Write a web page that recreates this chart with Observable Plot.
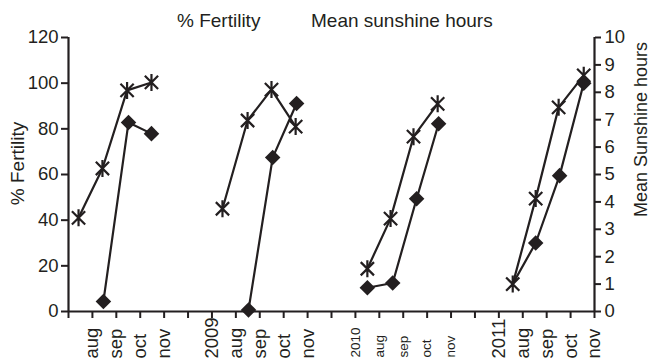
<!DOCTYPE html>
<html>
<head>
<meta charset="utf-8">
<script src="https://cdn.jsdelivr.net/npm/d3@7"></script>
<script src="https://cdn.jsdelivr.net/npm/@observablehq/plot@0.6"></script>
<style>
  html, body { margin: 0; padding: 0; background: #fff; }
  #wrap { position: relative; width: 650px; height: 362px; font-family: "Liberation Sans", Arial, sans-serif; }
  .leg { position: absolute; top: 10px; font-size: 19px; color: #231f20; white-space: nowrap; }
</style>
</head>
<body>
<div id="wrap">
  <div class="leg" style="left:177px">% Fertility</div>
  <div class="leg" style="left:311px">Mean sunshine hours</div>
</div>
<script>
// x positions are in tick-slot units (one slot per month tick on the axis)
const tickLabels = ["", "aug", "sep", "oct", "nov", "", "2009", "aug", "sep", "oct", "nov", "", "2010", "aug", "sep", "oct", "nov", "", "2011", "aug", "sep", "oct", "nov"];
const tickGroup  = [2008, 2008, 2008, 2008, 2008, 2008, 2009, 2009, 2009, 2009, 2009, 2009, 2010, 2010, 2010, 2010, 2010, 2010, 2011, 2011, 2011, 2011, 2011];

// Mean sunshine hours (right axis)
const sunSeason = [2008, 2008, 2008, 2008, 2009, 2009, 2009, 2009, 2010, 2010, 2010, 2010, 2011, 2011, 2011, 2011];
const sunX      = [0.42, 1.42, 2.45, 3.47, 6.44, 7.49, 8.49, 9.5, 12.5, 13.47, 14.43, 15.44, 18.58, 19.54, 20.5, 21.55];
const sunshine  = [3.42, 5.22, 8.07, 8.36, 3.75, 6.97, 8.1, 6.75, 1.56, 3.39, 6.38, 7.58, 1.0, 4.12, 7.45, 8.62];

// % Fertility (left axis)
const fertSeason = [2008, 2008, 2008, 2009, 2009, 2009, 2010, 2010, 2010, 2010, 2011, 2011, 2011, 2011];
const fertX      = [1.46, 2.51, 3.47, 7.53, 8.54, 9.54, 12.5, 13.56, 14.56, 15.48, 18.58, 19.54, 20.54, 21.55];
const fertility  = [4.4, 82.8, 77.9, 0.7, 67.4, 91.1, 10.4, 12.5, 49.4, 82.2, 12.1, 30, 59.5, 100];
const fertMarker = [true, true, true, true, true, true, true, true, true, true, false, true, true, true];

const leftTicks = [0, 20, 40, 60, 80, 100, 120];
const rightTicks = [0, 1, 2, 3, 4, 5, 6, 7, 8, 9, 10];
const hoursToPct = 12; // 10 hours on the right axis == 120 % on the left

const sun = sunX.map((x, i) => ({x, season: sunSeason[i], hours: sunshine[i]}));
const fert = fertX.map((x, i) => ({x, season: fertSeason[i], pct: fertility[i], marker: fertMarker[i]}));
const ticksData = tickLabels.map((label, i) => ({i, label, group: tickGroup[i]}));

const ink = "#231f20";

const asterisk = {
  draw(context, size) {
    const r = Math.sqrt(size / Math.PI);
    const d = r * 0.78;
    context.moveTo(0, -r); context.lineTo(0, r);
    context.moveTo(-d, -d); context.lineTo(d, d);
    context.moveTo(-d, d); context.lineTo(d, -d);
  }
};

const chart = Plot.plot({
  width: 650,
  height: 362,
  marginLeft: 68,
  marginRight: 56,
  marginTop: 37,
  marginBottom: 51,
  style: {fontFamily: "'Liberation Sans', Arial, sans-serif", fontSize: "18.5px", color: ink, background: "white"},
  x: {domain: [0, 22], axis: null},
  y: {domain: [0, 120], axis: null},
  marks: [
    Plot.axisY({ticks: leftTicks, tickSize: 7, tickPadding: 3, strokeWidth: 2, stroke: ink, fill: ink, label: null, fontSize: 18.5}),
    Plot.axisY({anchor: "right", ticks: rightTicks.map(t => t * hoursToPct), tickFormat: d => d / hoursToPct, tickSize: 6, tickPadding: 4, strokeWidth: 2, stroke: ink, fill: ink, label: null, fontSize: 18.5}),
    Plot.axisX({ticks: d3.range(0, 23), tickSize: 7, tickFormat: () => "", strokeWidth: 2, stroke: ink, label: null}),
    Plot.ruleY([0], {stroke: ink, strokeWidth: 2.2}),
    Plot.ruleX([0, 22], {stroke: ink, strokeWidth: 2.2}),
    // x tick labels (rotated, bottom aligned)
    Plot.text(ticksData.filter(d => d.group !== 2010), {x: "i", text: "label", frameAnchor: "bottom", dy: 47, rotate: -90, textAnchor: "start", lineAnchor: "middle", fontSize: 18.5, fill: ink}),
    Plot.text(ticksData.filter(d => d.group === 2010), {x: "i", text: "label", frameAnchor: "bottom", dy: 46, rotate: -90, textAnchor: "start", lineAnchor: "middle", fontSize: 13.5, fill: ink}),
    // axis titles
    Plot.text(["% Fertility"], {frameAnchor: "left", dx: -51, dy: -11, rotate: -90, textAnchor: "middle", fontSize: 19, fill: ink}),
    Plot.text(["Mean Sunshine hours"], {frameAnchor: "right", dx: 47, dy: -45, rotate: -90, textAnchor: "middle", fontSize: 18, fill: ink}),
    // series
    Plot.line(fert, {x: "x", y: "pct", z: "season", stroke: ink, strokeWidth: 2.2}),
    Plot.line(sun, {x: "x", y: d => d.hours * hoursToPct, z: "season", stroke: ink, strokeWidth: 2.2}),
    Plot.dot(fert.filter(d => d.marker), {x: "x", y: "pct", symbol: "diamond2", r: 7, fill: ink, stroke: "none"}),
    Plot.dot(sun, {x: "x", y: d => d.hours * hoursToPct, symbol: asterisk, r: 8.5, stroke: ink, strokeWidth: 2.2, fill: "none"})
  ]
});
chart.style.position = "absolute";
chart.style.left = "0";
chart.style.top = "0";
document.getElementById("wrap").prepend(chart);
</script>
</body>
</html>
